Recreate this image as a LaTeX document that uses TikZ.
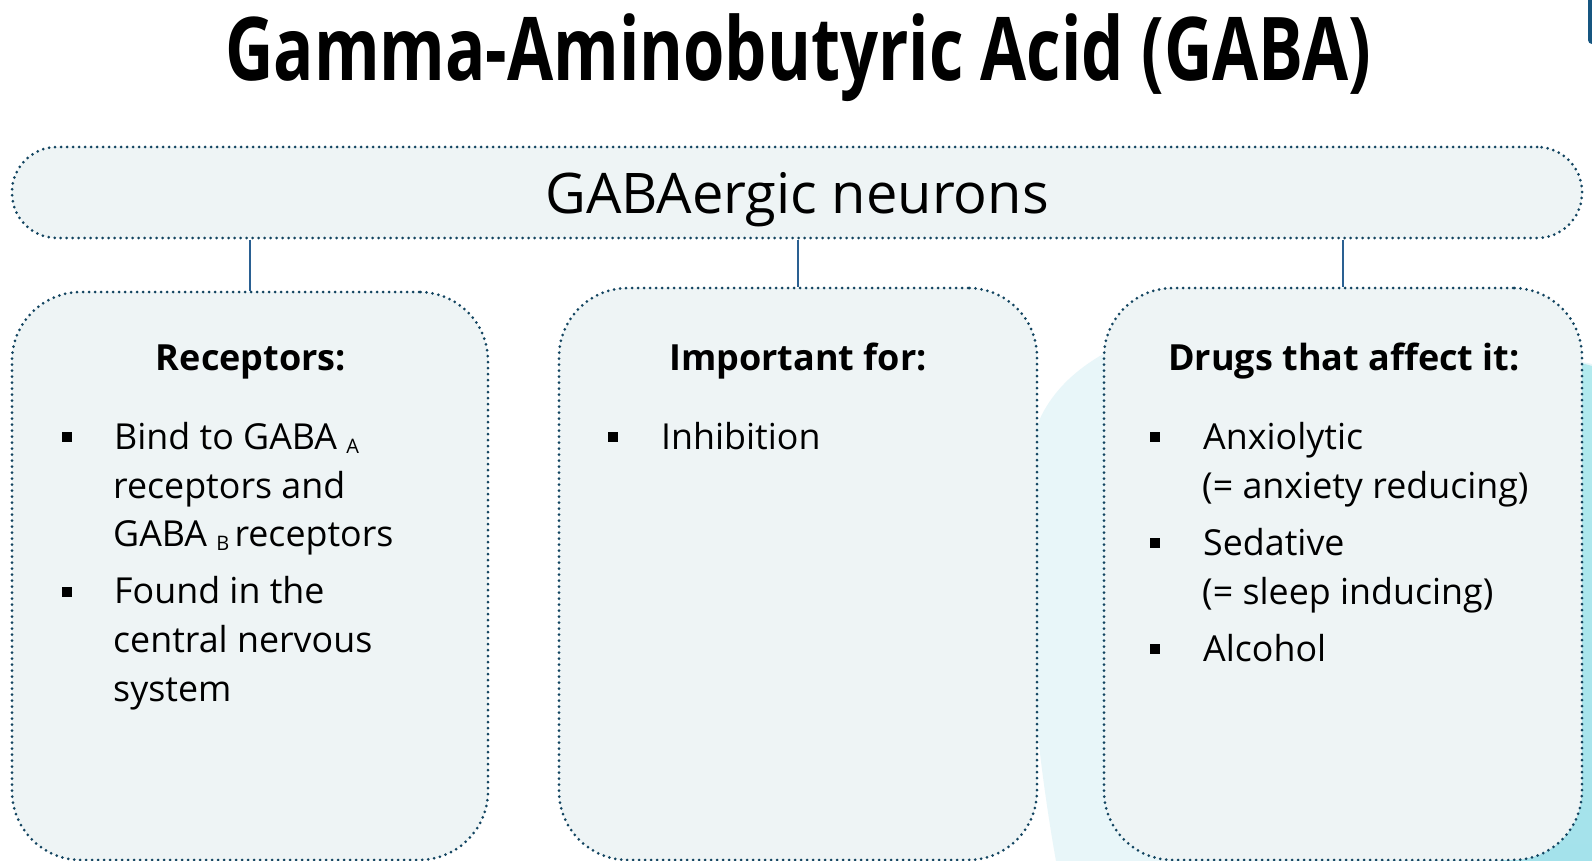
\documentclass[tikz,border=0pt]{standalone}
\usepackage{fontspec}
\setmainfont{Open Sans}
\definecolor{boxfill}{RGB}{238,244,245}
\definecolor{dotc}{RGB}{18,68,96}
\definecolor{connc}{RGB}{42,96,146}
\definecolor{blob}{RGB}{232,246,249}
\definecolor{cyantop}{RGB}{178,234,238}
\definecolor{cyanbot}{RGB}{164,226,235}
\definecolor{dkblue}{RGB}{22,86,128}
\newcommand\mysub[1]{\raisebox{-4pt}{\fontsize{20}{20}\selectfont #1}}
\begin{document}
\begin{tikzpicture}[x=1pt,y=-1pt,
  box/.style={rectangle, draw=dotc, fill=boxfill, line width=3pt,
    dash pattern=on 0pt off 6pt, line cap=round, rounded corners=69pt, inner sep=0pt},
  topbox/.style={box, rounded corners=45pt},
  conn/.style={draw=connc, line width=1.6pt},
  bul/.style={rectangle, fill=black, minimum size=10pt, inner sep=0pt},
  body/.style={anchor=base west, inner sep=0pt, font=\fontsize{35.8}{40}\selectfont},
  head/.style={anchor=base, inner sep=0pt, font=\bfseries\fontsize{36}{40}\selectfont}]
\useasboundingbox (0,0) rectangle (1592,861);
\fill[white] (0,0) rectangle (1592,861);
% background decorations
\begin{scope}
\clip (0,0) rectangle (1592,861);
\fill[blob] (1350,300) .. controls (1150,310) and (1025,360) .. (1028,480)
  .. controls (1022,620) and (1038,760) .. (1056,861) -- (1592,861) -- (1592,364)
  -- (1582,362) -- (1560,330) -- (1470,300) -- cycle;
\shade[top color=cyantop, bottom color=cyanbot] (1570,360) -- (1592,366) -- (1592,861) -- (1500,861) -- (1500,700) -- cycle;
\fill[dkblue, rounded corners=4pt] (1588,-10) rectangle (1600,44);
\end{scope}
% title
\node[anchor=base west, inner sep=0pt] (title) at (225,81)
  {\resizebox{1146pt}{\height}{\bfseries\fontsize{88}{90}\selectfont Gamma-Aminobutyric Acid (GABA)}};
% boxes
\node[topbox, minimum width=1570pt, minimum height=91pt] (top) at (797,192.5) {};
\node[anchor=base, inner sep=0pt, font=\fontsize{56}{64}\selectfont] (gn) at (797,214) {GABAergic neurons};
\node[box, minimum width=476pt, minimum height=568pt] (L) at (250,576) {};
\node[box, minimum width=478pt, minimum height=572pt] (M) at (798,574) {};
\node[box, minimum width=478pt, minimum height=572pt] (R) at (1343,574) {};
% connectors
\draw[conn] (top.south -| L.north) -- (L.north);
\draw[conn] (top.south -| M.north) -- (M.north);
\draw[conn] (top.south -| R.north) -- (R.north);
% headings
\node[head] (hL) at (251,370) {Receptors:};
\node[head] (hM) at (798,370) {Important for:};
\node[head] (hR) at (1344,370) {Drugs that affect it:};
% left items
\node[bul] (bL1) at (67,437) {};
\node[body] (tL1) at (114,449) {Bind to GABA \mysub{A}};
\node[body] (tL2) at (113,498) {receptors and};
\node[body] (tL3) at (113,546) {GABA \mysub{B\ }receptors};
\node[bul] (bL2) at (67,592) {};
\node[body] (tL4) at (114,603) {Found in the};
\node[body] (tL5) at (113,652) {central nervous};
\node[body] (tL6) at (113,701) {system};
% middle items
\node[bul] (bM1) at (613,437) {};
\node[body] (tM1) at (661,449) {Inhibition};
% right items
\node[bul] (bR1) at (1155,437) {};
\node[body] (tR1) at (1203,449) {Anxiolytic};
\node[body] (tR2) at (1202,498) {(= anxiety reducing)};
\node[bul] (bR2) at (1155,543) {};
\node[body] (tR3) at (1203,555) {Sedative};
\node[body] (tR4) at (1202,604) {(= sleep inducing)};
\node[bul] (bR3) at (1155,649) {};
\node[body] (tR5) at (1203,661) {Alcohol};
\end{tikzpicture}
\end{document}
